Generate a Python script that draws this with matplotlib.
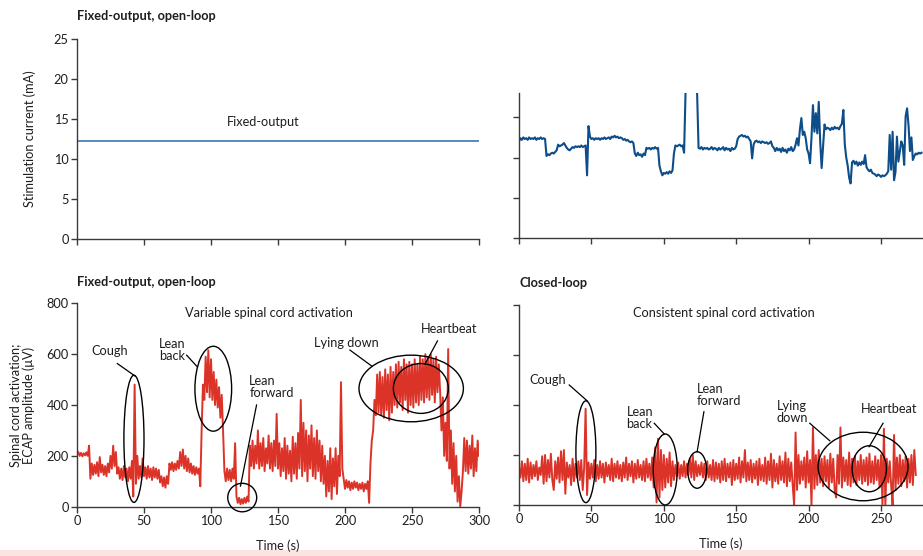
import numpy as np
import matplotlib
matplotlib.use("Agg")
import matplotlib.pyplot as plt
from matplotlib.patches import Ellipse, Rectangle

plt.rcParams['font.family'] = ['Lato', 'DejaVu Sans']
FS = 9.2
plt.rcParams['font.size'] = FS

# ---------------- data ----------------
# fixed-output stimulation current (mA)
fixed_current = 12.3
fixed_t = [0, 300]

# closed-loop stimulation current (mA), 1 s samples from t = 0 s
closed_current = [
    12.0, 12.4, 12.2, 12.5, 12.3, 12.4, 12.2, 12.5, 12.3, 12.4,
    12.3, 12.5, 12.2, 12.4, 12.3, 12.5, 12.3, 12.4, 12.3, 10.2,
    10.4, 10.3, 10.5, 10.6, 10.5, 10.7, 10.9, 11.6, 11.4, 11.5,
    11.6, 11.8, 11.5, 11.2, 11.0, 10.9, 11.1, 11.3, 11.2, 11.4,
    11.3, 11.4, 11.3, 11.5, 11.3, 11.4, 11.5, 7.8, 13.9, 12.6,
    12.3, 12.4, 12.2, 12.4, 12.3, 12.4, 12.2, 12.4, 12.3, 12.5,
    12.3, 12.4, 12.5, 12.3, 12.6, 12.5, 12.7, 12.5, 12.6, 12.4,
    12.5, 12.4, 12.2, 12.3, 12.1, 12.2, 12.0, 11.9, 12.0, 11.8,
    10.5, 10.2, 10.6, 10.3, 10.4, 10.1, 10.5, 10.3, 11.2, 11.1,
    11.2, 11.0, 11.2, 11.1, 11.3, 11.1, 11.2, 9.0, 8.3, 7.8,
    8.1, 8.0, 8.2, 8.0, 8.3, 8.1, 8.4, 10.5, 11.5, 11.4,
    11.5, 11.6, 11.4, 11.5, 10.6, 18.0, 19.5, 19.5, 19.5, 19.5,
    19.5, 19.5, 19.5, 18.0, 11.2, 11.1, 11.3, 11.0, 11.2, 11.1,
    11.2, 11.0, 11.1, 11.3, 11.0, 11.2, 11.1, 10.9, 11.2, 11.0,
    11.1, 11.3, 10.9, 11.2, 11.0, 11.1, 10.8, 11.2, 11.0, 11.1,
    11.4, 12.3, 12.6, 12.7, 12.8, 12.6, 12.7, 12.5, 12.6, 12.3,
    12.0, 9.9, 11.6, 12.0, 12.1, 11.9, 12.0, 11.8, 12.0, 11.9,
    11.8, 11.9, 11.7, 11.8, 12.0, 11.4, 11.2, 10.8, 11.2, 10.9,
    11.1, 10.7, 11.2, 10.8, 11.0, 10.6, 11.1, 10.9, 11.3, 10.8,
    11.0, 11.6, 12.4, 11.5, 13.5, 14.9, 12.8, 13.2, 12.4, 11.0,
    10.5, 9.3, 12.5, 16.5, 13.2, 15.5, 13.0, 16.9, 12.0, 8.7,
    11.5, 14.1, 13.5, 13.7, 13.6, 13.4, 13.7, 13.5, 13.8, 13.6,
    13.7, 13.5, 13.9, 14.2, 15.9, 11.6, 10.0, 9.0, 7.5, 6.8,
    9.4, 9.6, 9.2, 9.5, 9.0, 9.4, 9.1, 9.5, 9.2, 10.3,
    8.8, 8.5, 8.3, 8.5, 8.1, 8.0, 7.9, 7.7, 7.9, 7.8,
    7.6, 7.8, 7.7, 7.8, 8.0, 8.3, 12.8, 8.5, 13.2, 7.2,
    8.2, 12.6, 9.5, 10.8, 12.0, 11.5, 9.1, 15.1, 16.1, 14.0,
    10.8, 12.5, 9.7, 10.2, 10.5, 10.4, 10.6, 10.5, 10.6,
]

# ECAP amplitude (uV) under fixed-output stimulation, 1 s samples
ecap_open = [
    205, 215, 200, 212, 198, 210, 202, 214, 200, 240,
    110, 170, 125, 165, 130, 175, 120, 195, 135, 165,
    125, 160, 120, 170, 135, 200, 150, 240, 160, 215,
    130, 155, 110, 150, 105, 160, 115, 150, 100, 155,
    110, 180, 40, 480, 90, 200, 110, 160, 115, 190,
    120, 155, 110, 160, 115, 150, 105, 155, 115, 150,
    110, 145, 95, 120, 80, 115, 75, 120, 90, 170,
    145, 175, 140, 170, 145, 180, 150, 215, 160, 225,
    150, 200, 140, 190, 135, 170, 130, 160, 125, 155,
    130, 150, 80, 300, 480, 420, 590, 450, 615, 430,
    580, 420, 530, 400, 500, 390, 470, 350, 440, 300,
    140, 100, 150, 105, 145, 100, 150, 110, 250, 40,
    15, 35, 10, 30, 12, 35, 15, 40, 20, 240,
    160, 260, 150, 240, 170, 300, 150, 250, 160, 270,
    140, 230, 170, 280, 150, 250, 140, 260, 160, 365,
    150, 250, 120, 230, 140, 270, 110, 240, 130, 220,
    100, 275, 130, 250, 110, 290, 150, 420, 120, 330,
    140, 300, 100, 280, 150, 320, 120, 270, 110, 300,
    140, 260, 100, 240, 90, 200, 40, 180, 60, 230,
    30, 190, 80, 230, 50, 200, 120, 490, 150, 110,
    70, 105, 75, 100, 65, 95, 70, 100, 75, 95,
    65, 90, 70, 95, 60, 90, 70, 100, 15, 170,
    260, 300, 420, 360, 520, 370, 530, 360, 510, 350,
    540, 380, 520, 340, 550, 370, 530, 400, 560, 390,
    570, 410, 550, 380, 580, 420, 560, 370, 570, 400,
    560, 390, 580, 410, 560, 400, 590, 420, 580, 410,
    600, 430, 590, 420, 600, 440, 580, 410, 590, 450,
    560, 450, 300, 430, 200, 330, 180, 620, 150, 300,
    90, 250, 60, 200, 20, 120, 0, 60, 140, 270,
    140, 260, 130, 240, 150, 280, 120, 230, 140, 260, 200,
]

# ECAP amplitude (uV) under closed-loop stimulation, 1 s samples
ecap_closed = [
    150, 110, 175, 95, 165, 100, 185, 90, 170, 105,
    160, 115, 175, 100, 150, 120, 195, 85, 200, 95,
    180, 110, 205, 100, 60, 175, 105, 190, 90, 215,
    100, 220, 45, 170, 110, 160, 80, 185, 95, 165,
    110, 175, 100, 180, 60, 150, 385, 40, 170, 105,
    165, 110, 180, 95, 160, 105, 175, 110, 165, 90,
    170, 115, 160, 100, 185, 95, 165, 110, 175, 105,
    160, 95, 170, 110, 190, 100, 165, 115, 175, 90,
    165, 105, 180, 110, 160, 100, 175, 95, 185, 110,
    165, 100, 190, 70, 230, 10, 265, 30, 220, 60,
    200, 70, 185, 90, 210, 75, 175, 100, 160, 115,
    170, 105, 160, 115, 175, 110, 165, 120, 185, 110,
    200, 100, 175, 115, 160, 120, 170, 110, 165, 100,
    175, 110, 160, 100, 180, 95, 170, 105, 165, 90,
    175, 100, 185, 95, 165, 110, 170, 80, 180, 100,
    165, 105, 190, 90, 175, 110, 220, 95, 170, 100,
    180, 90, 165, 105, 175, 80, 185, 100, 160, 95,
    190, 85, 175, 100, 205, 70, 180, 95, 165, 85,
    195, 100, 175, 90, 210, 75, 185, 95, 170, 80,
    0, 290, 60, 200, 85, 175, 100, 190, 70, 215,
    90, 180, 0, 310, 65, 200, 80, 220, 90, 185,
    75, 195, 95, 180, 70, 205, 90, 185, 60, 30,
    200, 85, 310, 70, 190, 95, 180, 80, 210, 75,
    185, 90, 195, 80, 175, 100, 200, 85, 180, 95,
    190, 80, 205, 90, 175, 85, 195, 100, 180, 70,
    200, 0, 305, 0, 185, 90, 175, 80, 0, 280,
    60, 190, 85, 200, 75, 180, 95, 195, 70, 185,
    90, 200, 80, 220, 120,
]

time_ticks = [0, 50, 100, 150, 200, 250, 300]
current_ticks = [0, 5, 10, 15, 20, 25]
ecap_ticks = [0, 200, 400, 600, 800]

# ---------------- style ----------------
RED = '#dc3329'
DARK_BLUE = '#0c4d8a'
MID_BLUE = '#3c74b4'
AX_COL = '#3a3a3a'
TXT = '#1e1e1e'

fig = plt.figure(figsize=(9.23, 5.56), dpi=100)
fig.patch.set_facecolor('white')

# thin pink band along the bottom edge
fig.add_artist(Rectangle((0, 0), 1, 6 / 556, transform=fig.transFigure,
                         facecolor='#fbe4e1', edgecolor='none', zorder=0))


def style_axes(ax):
    for s in ('top', 'right'):
        ax.spines[s].set_visible(False)
    for s in ('left', 'bottom'):
        ax.spines[s].set_color(AX_COL)
        ax.spines[s].set_linewidth(1.0)
    ax.tick_params(direction='out', length=4, width=1.0, color=AX_COL,
                   labelsize=FS, labelcolor=TXT, pad=2)
    ax.set_facecolor('none')


ax_tl = fig.add_axes([77 / 923, 1 - 239 / 556, 402 / 923, 200 / 556])
ax_tr = fig.add_axes([519 / 923, 1 - 238.3 / 556, 404 / 923, 145.3 / 556])
ax_bl = fig.add_axes([77 / 923, 1 - 506.7 / 556, 402 / 923, 203.4 / 556])
ax_br = fig.add_axes([519 / 923, 1 - 505 / 556, 404 / 923, 200 / 556])
for ax in (ax_tl, ax_tr, ax_bl, ax_br):
    style_axes(ax)

# ---- top left: fixed output current ----
ax_tl.plot(fixed_t, [fixed_current, fixed_current], color=MID_BLUE, lw=1.2)
ax_tl.set_xlim(0, 300)
ax_tl.set_ylim(0, 25)
ax_tl.set_xticks(time_ticks)
ax_tl.set_xticklabels([])
ax_tl.set_yticks(current_ticks)
ax_tl.set_ylabel('Stimulation current (mA)', fontsize=FS, color=TXT, labelpad=13)
ax_tl.text(139, 14.6, 'Fixed-output', ha='center', va='center', fontsize=FS, color=TXT)
fig.text(77 / 923, 1 - 16 / 556, 'Fixed-output, open-loop', fontweight='bold',
         fontsize=9.2, color=TXT, ha='left', va='center')

# ---- top right: closed-loop current ----
t_cl = np.arange(len(closed_current))
ax_tr.plot(t_cl, closed_current, color=DARK_BLUE, lw=1.5)
ax_tr.set_xlim(0, 279)
ax_tr.set_ylim(0, 18.0)
ax_tr.set_xticks(time_ticks[:-1])
ax_tr.set_xticklabels([])
ax_tr.set_yticks(current_ticks[:-2])
ax_tr.set_yticklabels([])

# ---- bottom left: open-loop ECAP ----
t_op = np.arange(len(ecap_open))
ax_bl.plot(t_op, ecap_open, color=RED, lw=1.4)
ax_bl.set_xlim(0, 300)
ax_bl.set_ylim(0, 800)
ax_bl.set_xticks(time_ticks)
ax_bl.set_yticks(ecap_ticks)
ax_bl.set_ylabel('Spinal cord activation;\nECAP amplitude (\u03bcV)', fontsize=FS,
                 color=TXT, labelpad=8, linespacing=1.05)
ax_bl.set_xlabel('Time (s)', fontsize=FS, color=TXT, labelpad=9)
fig.text(77 / 923, 1 - 282 / 556, 'Fixed-output, open-loop', fontweight='bold',
         fontsize=9.2, color=TXT, ha='left', va='center')
ax_bl.text(143, 760, 'Variable spinal cord activation', ha='center', va='center',
           fontsize=FS, color=TXT)

ell_kw = dict(fill=False, edgecolor='black', lw=1.0, clip_on=False, zorder=5)
line_kw = dict(color='black', lw=0.9, clip_on=False, zorder=5)

for (cx, cy, w, h) in [(42.5, 267, 15, 500), (101.7, 464, 27.4, 334),
                       (123.3, 36, 21.6, 112), (249.4, 465, 77.9, 262),
                       (256.6, 465, 41, 196)]:
    ax_bl.add_patch(Ellipse((cx, cy), w, h, **ell_kw))

ax_bl.text(24.4, 612, 'Cough', ha='center', va='center', color=TXT)
ax_bl.plot([30.1, 43.3], [563, 514], **line_kw)
ax_bl.text(61.4, 618, 'Lean\nback', ha='left', va='center', color=TXT, linespacing=1.0)
ax_bl.plot([81.8, 89.8], [596, 550], **line_kw)
ax_bl.text(128.6, 469, 'Lean\nforward', ha='left', va='center', color=TXT, linespacing=1.0)
ax_bl.plot([134, 122], [400, 81], **line_kw)
ax_bl.text(201, 645, 'Lying down', ha='center', va='center', color=TXT)
ax_bl.plot([203.7, 220], [616, 553], **line_kw)
ax_bl.text(277.3, 700, 'Heartbeat', ha='center', va='center', color=TXT)
ax_bl.plot([269, 259.7], [652, 561], **line_kw)

# ---- bottom right: closed-loop ECAP ----
t_cl2 = np.arange(len(ecap_closed))
ax_br.plot(t_cl2, ecap_closed, color=RED, lw=1.4)
ax_br.set_xlim(0, 279)
ax_br.set_ylim(0, 800)
ax_br.set_xticks(time_ticks[:-1])
ax_br.set_yticks(ecap_ticks)
ax_br.set_yticklabels([])
ax_br.set_xlabel('Time (s)', fontsize=FS, color=TXT, labelpad=9)
fig.text(519 / 923, 1 - 283 / 556, 'Closed-loop', fontweight='bold',
         fontsize=9.2, color=TXT, ha='left', va='center')
ax_br.text(141.7, 767, 'Consistent spinal cord activation', ha='center', va='center',
           fontsize=FS, color=TXT)

for (cx, cy, w, h) in [(46.2, 213, 13.8, 407), (101, 142, 16.6, 284),
                       (123, 140, 13.1, 146), (237.6, 154, 62.1, 274),
                       (241.9, 145, 23.7, 184)]:
    ax_br.add_patch(Ellipse((cx, cy), w, h, **ell_kw))

ax_br.text(19.5, 500, 'Cough', ha='center', va='center', color=TXT)
ax_br.plot([34.7, 47.2], [480, 416], **line_kw)
ax_br.text(74.3, 347, 'Lean\nback', ha='left', va='center', color=TXT, linespacing=1.0)
ax_br.plot([93.4, 100.3], [327, 284], **line_kw)
ax_br.text(122.6, 440, 'Lean\nforward', ha='left', va='center', color=TXT, linespacing=1.0)
ax_br.plot([127.7, 123], [373, 213], **line_kw)
ax_br.text(177.8, 373, 'Lying\ndown', ha='left', va='center', color=TXT, linespacing=1.0)
ax_br.plot([200.8, 214.6], [327, 257], **line_kw)
ax_br.text(255.4, 383, 'Heartbeat', ha='center', va='center', color=TXT)
ax_br.plot([251.4, 241.8], [327, 233], **line_kw)

fig.savefig('out.png', dpi=100)
